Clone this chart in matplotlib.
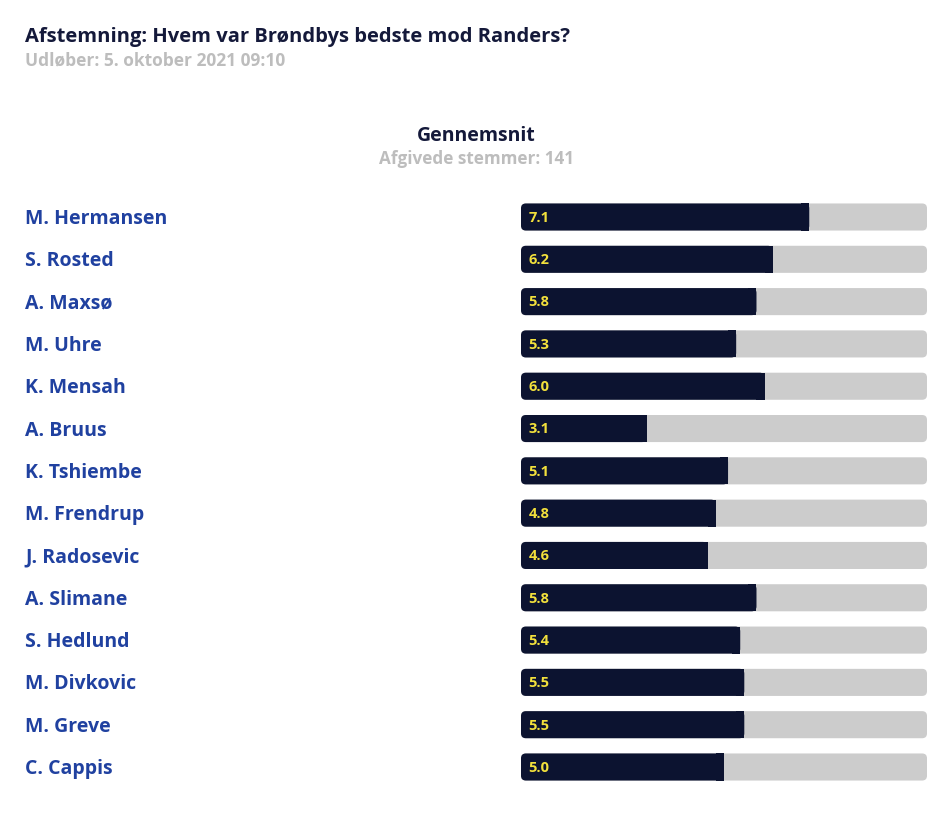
import matplotlib
matplotlib.use('Agg')
import matplotlib.pyplot as plt
import matplotlib.transforms as mtransforms
from matplotlib.patches import FancyBboxPatch

players = ['M. Hermansen', 'S. Rosted', 'A. Maxsø', 'M. Uhre', 'K. Mensah',
           'A. Bruus', 'K. Tshiembe', 'M. Frendrup', 'J. Radosevic',
           'A. Slimane', 'S. Hedlund', 'M. Divkovic', 'M. Greve', 'C. Cappis']
ratings = [7.1, 6.2, 5.8, 5.3, 6.0, 3.1, 5.1, 4.8, 4.6, 5.8, 5.4, 5.5, 5.5, 5.0]
max_rating = 10

NAVY = '#0c1330'
GREY = '#cccccc'
YELLOW = '#f2e03c'
BLUE = '#2041a0'
FONT = ['Open Sans', 'DejaVu Sans']

fig = plt.figure(figsize=(9.5, 8.36), dpi=100)
fig.patch.set_facecolor('white')
ax = fig.add_axes([521 / 950, 1 - 788.15 / 836, 406 / 950, 592.3 / 836])
ax.set_xlim(0, max_rating)
ax.set_ylim(len(players) - 0.5, -0.5)
ax.axis('off')

ypos = list(range(len(players)))
bar_h = 0.64

# background track and value bars
bg = ax.barh(ypos, [max_rating] * len(players), height=bar_h, color=GREY)
fg = ax.barh(ypos, ratings, height=bar_h, color=NAVY)

# swap plain rectangles for rounded ones
asp = (1 / 42.3) / (max_rating / 406)
for bars, col in ((bg, GREY), (fg, NAVY)):
    for r in bars:
        x, y, w, h = r.get_x(), r.get_y(), r.get_width(), r.get_height()
        r.set_visible(False)
        ax.add_patch(FancyBboxPatch((x, y), w, h,
                                    boxstyle='round,pad=0,rounding_size=0.12',
                                    mutation_aspect=asp, facecolor=col,
                                    edgecolor='none', zorder=2 if col == NAVY else 1))
        if col == NAVY:
            # square off the right end of the value bar
            ax.barh(y + h / 2, 0.2, left=x + w - 0.2, height=h, color=NAVY, zorder=2)

for y, v in zip(ypos, ratings):
    ax.text(0.18, y + 0.02, f'{v:.1f}', color=YELLOW, fontsize=10.5,
            fontweight='bold', va='center', ha='left', family=FONT, zorder=3)

trans = mtransforms.blended_transform_factory(fig.transFigure, ax.transData)
for y, name in zip(ypos, players):
    ax.text(25 / 950, y + 0.05, name, transform=trans, color=BLUE, fontsize=14,
            fontweight='bold', va='center', ha='left', family=FONT)

fig.text(25 / 950, 1 - 37 / 836, 'Afstemning: Hvem var Brøndbys bedste mod Randers?',
         color='#14193a', fontsize=14.5, fontweight='bold', va='center',
         ha='left', family=FONT)
fig.text(25 / 950, 1 - 60 / 836, 'Udløber: 5. oktober 2021 09:10',
         color='#bdbdbd', fontsize=12.5, fontweight='bold', va='center',
         ha='left', family=FONT)
fig.text(476 / 950, 1 - 136 / 836, 'Gennemsnit', color='#14193a', fontsize=14,
         fontweight='bold', va='center', ha='center', family=FONT)
fig.text(476 / 950, 1 - 159 / 836, 'Afgivede stemmer: 141', color='#bdbdbd',
         fontsize=12.3, fontweight='bold', va='center', ha='center', family=FONT)

fig.savefig('out.png', dpi=100, facecolor='white')
